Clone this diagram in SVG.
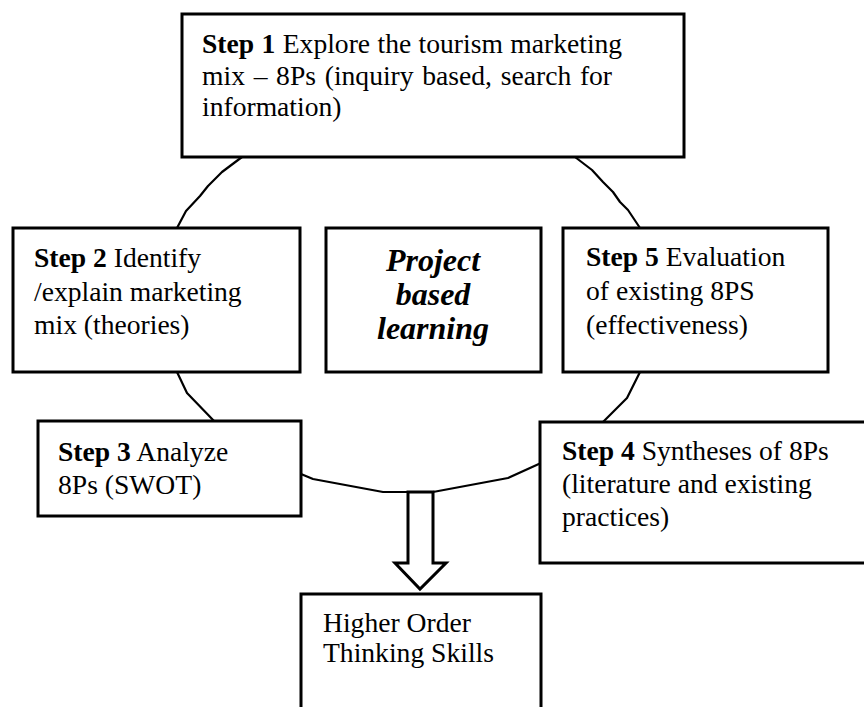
<svg xmlns="http://www.w3.org/2000/svg" width="864" height="707" viewBox="0 0 864 707">
<style>
  .box { fill: #fff; stroke: #000; stroke-width: 3; }
  .arc { fill: none; stroke: #000; stroke-width: 2.2; stroke-linejoin: round; }
  .t { font-family: "Liberation Serif", "Times New Roman", serif; font-size: 27.6px; fill: #000; }
  .b { font-weight: bold; }
  .c { font-family: "Liberation Serif", "Times New Roman", serif; font-size: 32px; font-weight: bold; font-style: italic; fill: #000; text-anchor: middle; }
</style>
<rect width="864" height="707" fill="#fff"/>
<g id="connectors">
  <polyline class="arc" points="242,157 222,172 208,186 200,196 186,211 177,228"/>
  <polyline class="arc" points="575,157 592,170 603,182 613,192 620,202 628,210 640,228"/>
  <polyline class="arc" points="177,372 187,393 215,422"/>
  <polyline class="arc" points="640,372 627,398 603,422"/>
  <polyline class="arc" points="301,474 313,479 383,492 433,492 508,478 541,463"/>
  <polygon id="arrow" class="box" points="408,492 433,492 433,563 446,563 420,589 395,563 408,563"/>
  <polyline class="arc" points="383,492 433,492"/>
</g>
<g id="step1">
  <rect class="box" x="182" y="14" width="502" height="143"/>
  <text class="t" x="202" y="53" word-spacing="0.5"><tspan class="b">Step 1</tspan> Explore the tourism marketing</text>
  <text class="t" x="202" y="85" word-spacing="1.8">mix – 8Ps (inquiry based, search for</text>
  <text class="t" x="202" y="116">information)</text>
</g>
<g id="step2">
  <rect class="box" x="13" y="228" width="287" height="144"/>
  <text class="t" x="34" y="267"><tspan class="b">Step 2</tspan> Identify</text>
  <text class="t" x="34" y="301">/explain marketing</text>
  <text class="t" x="34" y="334">mix (theories)</text>
</g>
<g id="center">
  <rect class="box" x="326" y="228" width="215" height="144"/>
  <text class="c" x="433" y="271">Project</text>
  <text class="c" x="433" y="305">based</text>
  <text class="c" x="433" y="339">learning</text>
</g>
<g id="step5">
  <rect class="box" x="563" y="228" width="265" height="144"/>
  <text class="t" x="586" y="266"><tspan class="b">Step 5</tspan> Evaluation</text>
  <text class="t" x="586" y="300">of existing 8PS</text>
  <text class="t" x="586" y="334">(effectiveness)</text>
</g>
<g id="step3">
  <rect class="box" x="38" y="421" width="263" height="95"/>
  <text class="t" x="58" y="461"><tspan class="b">Step 3</tspan> Analyze</text>
  <text class="t" x="58" y="494">8Ps (SWOT)</text>
</g>
<g id="step4">
  <rect class="box" x="540" y="422" width="340" height="141"/>
  <text class="t" x="562" y="460"><tspan class="b">Step 4</tspan> Syntheses of 8Ps</text>
  <text class="t" x="562" y="493">(literature and existing</text>
  <text class="t" x="562" y="526">practices)</text>
</g>
<g id="hots">
  <rect class="box" x="301" y="594" width="240" height="130"/>
  <text class="t" x="323" y="632">Higher Order</text>
  <text class="t" x="323" y="662">Thinking Skills</text>
</g>
</svg>
